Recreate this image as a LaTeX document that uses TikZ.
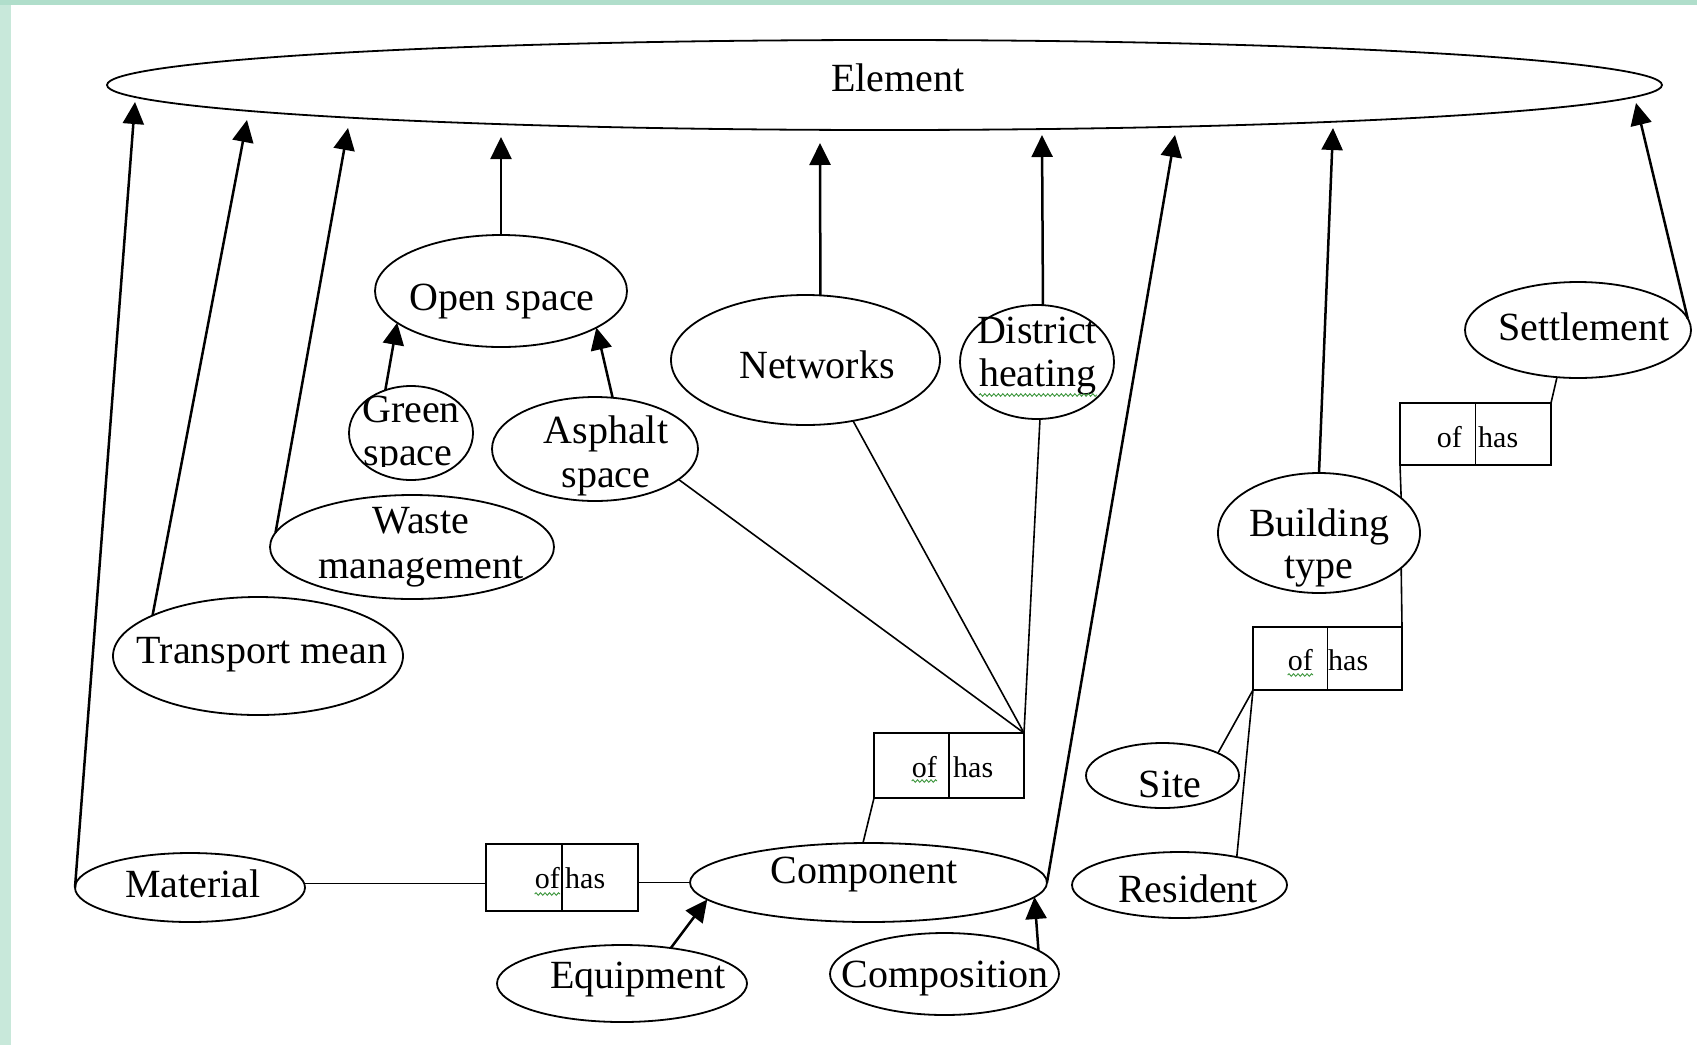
\documentclass[tikz,border=0pt]{standalone}
\usepackage{fontspec}
\setmainfont{Liberation Serif}
\usetikzlibrary{arrows.meta,shapes.geometric,decorations.pathmorphing}
\definecolor{bgleft}{RGB}{200,232,218}
\definecolor{bgtop}{RGB}{176,222,203}
\definecolor{squig}{RGB}{60,150,60}
\begin{document}
\begin{tikzpicture}[x=1pt,y=-1pt,
 ell/.style={draw, ellipse, line width=1.8pt, inner sep=0pt, outer sep=0pt},
 rbox/.style={draw, rectangle, line width=1.8pt, inner sep=0pt, outer sep=0pt},
 lbl/.style={inner sep=0pt, font=\fontsize{40}{44}\selectfont},
 sml/.style={inner sep=0pt, font=\fontsize{30}{34}\selectfont},
 arr/.style={line width=2.5pt, -{Triangle[length=22pt,width=21pt]}},
 ln/.style={line width=1.6pt},
 wavy/.style={squig, line width=0.9pt, decorate, decoration={snake, amplitude=1.3pt, segment length=4.5pt}}]
% background
\fill[white] (0,0) rectangle (1697,1045);
\fill[bgleft] (0,0) rectangle (11,1045);
\fill[bgtop] (0,0) rectangle (1697,5);
\useasboundingbox (0,0) rectangle (1697,1045);
% ellipses
\node[ell, minimum width=1555pt, minimum height=90pt] (el) at (884.5,85) {};
\node[ell, minimum width=252pt, minimum height=112pt] (os) at (501,291) {};
\node[ell, minimum width=124pt, minimum height=94pt] (gs) at (411,433) {};
\node[ell, minimum width=206pt, minimum height=104pt] (as) at (595,449) {};
\node[ell, minimum width=269pt, minimum height=130pt] (nw) at (805.5,360) {};
\node[ell, minimum width=154pt, minimum height=114pt] (dh) at (1037,362) {};
\node[ell, minimum width=284pt, minimum height=104pt] (wm) at (412,547) {};
\node[ell, minimum width=290pt, minimum height=118pt] (tm) at (258,656) {};
\node[ell, minimum width=226pt, minimum height=96pt] (st) at (1578,330) {};
\node[ell, minimum width=202pt, minimum height=120pt] (bt) at (1319,533) {};
\node[ell, minimum width=153pt, minimum height=65pt] (si) at (1162.5,775.5) {};
\node[ell, minimum width=215pt, minimum height=66pt] (re) at (1179.5,885) {};
\node[ell, minimum width=230pt, minimum height=69pt] (ma) at (190,887.5) {};
\node[ell, minimum width=357pt, minimum height=79pt] (co) at (868.5,882.5) {};
\node[ell, minimum width=250pt, minimum height=77pt] (eq) at (622,983.5) {};
\node[ell, minimum width=229pt, minimum height=82pt] (cp) at (944.5,974) {};
% arrow tips just below the Element ellipse
\coordinate (eMa) at (135,102);
\coordinate (eTm) at (247,120);
\coordinate (eWm) at (348,128);
\coordinate (eOs) at (501,137);
\coordinate (eNw) at (820,143);
\coordinate (eDh) at (1042,135);
\coordinate (eCo) at (1175,135);
\coordinate (eBt) at (1333,128);
\coordinate (eSt) at (1636,103);
% relation boxes
\node[rbox, minimum width=151pt, minimum height=62pt] (b1) at (1475.5,434) {};
\node[rbox, minimum width=149pt, minimum height=63pt] (b3) at (1327.5,658.5) {};
\node[rbox, minimum width=150pt, minimum height=65pt] (b2) at (949,765.5) {};
\node[rbox, minimum width=152pt, minimum height=67pt] (b4) at (562,877.5) {};
\foreach \b in {b1,b2,b3,b4} \draw[line width=1.6pt] (\b.north) -- (\b.south);
% labels
\node[lbl, anchor=base] (tEl) at (898,91) {Element};
\node[lbl, anchor=base] (tOs) at (502,310) {Open space};
\begin{scope}
\clip (300,370) rectangle (520,466);
\node[lbl, anchor=base] (tGs1) at (411,422) {Green};
\node[lbl, anchor=base] (tGs2) at (408,465) {space};
\end{scope}
\node[lbl, anchor=base] (tAs1) at (606,443) {Asphalt};
\node[lbl, anchor=base] (tAs2) at (606,487) {space};
\node[lbl, anchor=base] (tNw) at (817,378) {Networks};
\node[lbl, anchor=base] (tDh1) at (1037,343) {District};
\node[lbl, anchor=base] (tDh2) at (1038,386) {heating};
\node[lbl, anchor=base] (tWm1) at (421,533) {Waste};
\node[lbl, anchor=base] (tWm2) at (421,578) {management};
\node[lbl, anchor=base] (tTm) at (262,663) {Transport mean};
\node[lbl, anchor=base] (tSt) at (1584,340) {Settlement};
\node[lbl, anchor=base] (tBt1) at (1319,536) {Building};
\node[lbl, anchor=base] (tBt2) at (1319,578) {type};
\node[lbl, anchor=base] (tSi) at (1170,797) {Site};
\node[lbl, anchor=base] (tRe) at (1188,902) {Resident};
\node[lbl, anchor=base] (tMa) at (193,897) {Material};
\node[lbl, anchor=base] (tCo) at (864,883) {Component};
\node[lbl, anchor=base] (tEq) at (638,988) {Equipment};
\node[lbl, anchor=base] (tCp) at (945,987) {Composition};
% box labels
\node[sml, anchor=base east] (o1) at (1462,447) {of};
\node[sml, anchor=base west] (h1) at (1478,447) {has};
\node[sml, anchor=base east] (o3) at (1313,670) {of};
\node[sml, anchor=base west] (h3) at (1328,670) {has};
\node[sml, anchor=base east] (o2) at (937,777) {of};
\node[sml, anchor=base west] (h2) at (953,777) {has};
\node[sml, anchor=base east] (o4) at (560,888) {of};
\node[sml, anchor=base west] (h4) at (565,888) {has};
% spell-check squiggles
\draw[wavy] ([yshift=-9pt]tDh2.base west) -- ([yshift=-9pt]tDh2.base east);
\draw[wavy] ([yshift=-4pt]o2.base west) -- ([yshift=-4pt]o2.base east);
\draw[wavy] ([yshift=-6pt]o4.base west) -- ([yshift=-6pt]o4.base east);
\draw[wavy] ([yshift=-5pt]o3.base west) -- ([yshift=-5pt]o3.base east);
% arrows into Element
\draw[arr] (ma.west) -- (eMa);
\draw[arr] (tm.159.2) -- (eTm);
\draw[arr] (wm.174.3) -- (eWm);
\draw[arr] (os.north) -- (eOs);
\draw[arr] (nw.77.3) -- (eNw);
\draw[arr] (dh.84) -- (eDh);
\draw[arr] (co.east) -- (eCo);
\draw[arr] (bt.north) -- (eBt);
\draw[arr] (st.6.6) -- (eSt);
% other arrows
\draw[arr] (gs.121) -- (os.197);
\draw[arr] (as.71.7) -- (os.339.8);
\draw[arr] (eq.36.5) -- (co.186.5);
\draw[arr] (cp.14.2) -- (co.355.8);
% plain connectors
\draw[ln] (as.340.6) -- (b2.north east);
\draw[ln] (nw.308) -- (b2.north east);
\draw[ln] (dh.273) -- (b2.north east);
\draw[ln] (b2.south west) -- (co.98.6);
\draw[ln] (ma.2.2) -- (ma.2.2 -| b4.west);
\draw[ln] (b4.east |- co.west) -- (co.west);
\draw[ln] (st.246) -- (b1.north east);
\draw[ln] (b1.south west) -- (bt.23.8);
\draw[ln] (bt.337.6) -- (b3.north east);
\draw[ln] (b3.south west) -- (si.22);
\draw[ln] (b3.south west) -- (re.26);
\end{tikzpicture}
\end{document}
